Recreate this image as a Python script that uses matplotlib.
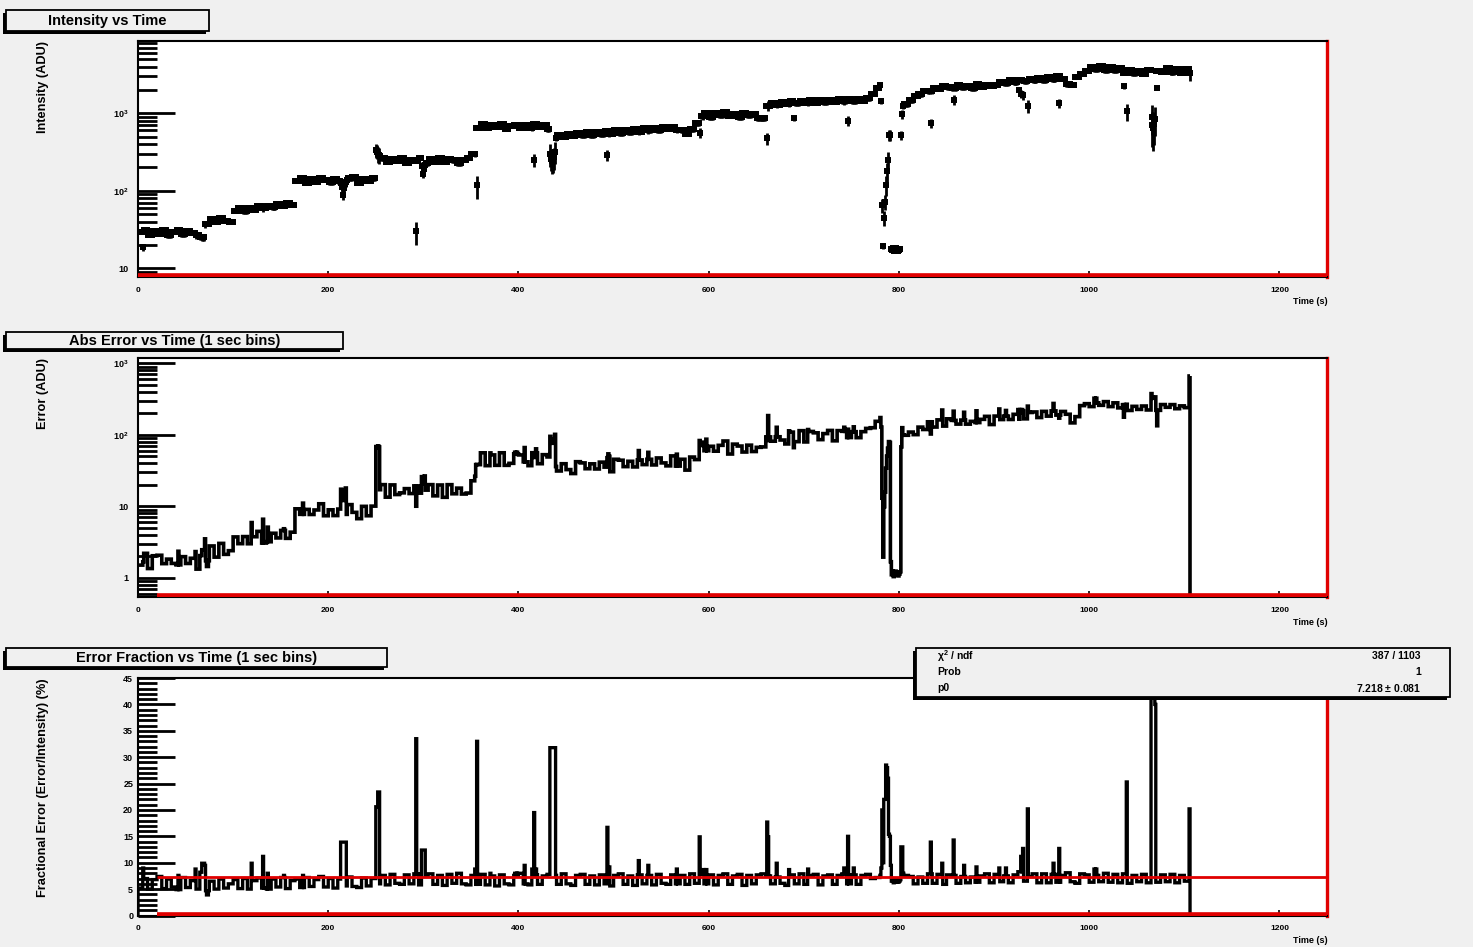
import numpy as np
import matplotlib
matplotlib.use("Agg")
import matplotlib.pyplot as plt
from matplotlib.patches import Rectangle
from matplotlib.ticker import MultipleLocator, LogLocator, FuncFormatter, NullFormatter

# ---------------------------------------------------------------- data
N_BINS = 1106          # 1-second bins
BLOCK = 5              # baseline values are listed per 5-second block
X_MAX = 1250

# baseline intensity (ADU) per 5 s block
intensity_5s = [
    29, 31.5, 27, 30, 28, 31, 26.5, 29.5, 31, 27.5, 30, 28.5, 26.5, 25,
    37, 43, 39, 44, 41, 40,
    55, 59, 54, 60, 57, 63, 59, 64, 61, 67, 64, 70, 66,
    134, 146, 126, 140, 131, 147, 137, 128, 143, 133, 138, 145, 150, 127, 141, 132, 144,
    285, 265, 232, 256, 240, 262, 230, 252, 245, 264, 228, 255, 238, 262, 235, 258, 246, 225, 248, 265, 300,
    650, 720, 640, 700, 670, 730, 625, 690, 715, 655, 700, 640, 725, 670, 705, 630,
    475, 530, 500, 545, 505, 555, 520, 570, 525, 575, 540, 590, 545, 600, 560, 610, 570, 625, 580, 640,
    600, 655, 610, 665, 625, 660, 610,
    600, 545, 620, 740,
    910, 1000, 900, 1020, 940, 1040, 915, 990, 895, 1010, 945, 975, 870, 860,
    1250, 1360, 1290, 1390, 1310, 1420, 1340, 1450, 1350, 1470, 1370, 1480, 1390, 1500, 1400, 1510,
    1420, 1530, 1440, 1550, 1460, 1580,
    1800, 2150,
    1430, 120, 250, 17.7, 17.7, 1300,
    1480, 1680, 1760, 1950, 1930, 2110, 2080, 2250, 2180,
    2100, 2320, 2180, 2280, 2120, 2360, 2200, 2300, 2250,
    2350, 2560, 2440, 2650, 2520, 2720, 2580, 2780, 2650, 2820,
    2700, 2950, 2780, 3000, 2800, 2400, 2300, 2950, 3250,
    3550, 3950, 3700, 4050, 3650, 3950, 3600, 3850, 3350, 3600, 3300, 3550, 3250, 3600, 3200, 3500,
    3450, 3800, 3400, 3750, 3350, 3700, 3500,
]

# baseline fractional error (%) per 5 s block
fraction_5s = [
    5.2, 7.0, 5.0, 6.8, 7.4, 5.1, 6.9, 5.4, 4.9, 7.2, 5.3, 6.6, 5.0, 8.2,
    4.7, 6.5, 5.0, 6.9, 5.2, 6.0,
    6.8, 5.1, 7.0, 5.0, 6.6, 7.1, 5.2, 5.0, 6.9, 5.4, 7.2, 5.1, 6.6,
    6.9, 5.3, 7.2, 5.5, 6.8, 7.4, 5.4, 7.0, 5.2, 6.9, 5.6, 7.3, 5.5, 5.3, 7.1, 5.6, 7.0,
    6.0, 7.6, 5.8, 7.8, 6.1, 5.9, 7.7, 6.0, 7.9, 5.8, 7.4, 7.9, 5.9, 7.6, 5.7, 7.8, 6.1, 8.0, 6.0, 5.8, 7.6,
    5.9, 7.8, 5.8, 7.5, 5.6, 7.7, 6.0, 5.8, 7.6, 8.0, 6.0, 5.8, 7.7, 5.9, 7.5, 7.8,
    7.6, 5.9, 7.9, 6.0, 5.7, 7.6, 7.8, 5.9, 7.5, 5.8, 7.7, 6.0, 5.6, 7.6, 7.9, 5.9, 7.5, 5.7, 7.7, 6.0,
    7.6, 5.8, 7.8, 6.1, 5.9, 7.7, 6.0,
    7.6, 5.9, 7.9, 6.1,
    7.8, 6.0, 7.7, 5.8, 7.6, 7.9, 5.9, 7.5, 7.8, 5.7, 7.6, 6.0, 7.7, 7.9,
    7.5, 6.0, 7.3, 6.1, 5.7, 7.7, 6.0, 7.9, 5.9, 7.6, 7.8, 5.8, 7.5, 7.7, 5.9, 7.6,
    7.9, 6.0, 7.7, 5.9, 7.6, 7.8,
    7.0, 7.2,
    9.0, 22.0, 26.0, 6.5, 6.3, 7.6,
    7.4, 6.0, 7.3, 6.1, 7.9, 6.1, 7.8, 5.9, 7.7,
    7.6, 6.1, 7.4, 6.2, 7.3, 6.3, 7.5, 7.9, 6.2,
    7.8, 6.4, 7.5, 6.2, 7.7, 8.3, 6.5, 7.4, 7.9, 6.2,
    7.9, 6.2, 7.8, 6.3, 7.6, 8.1, 6.4, 6.1, 7.9,
    7.7, 6.3, 7.6, 6.4, 8.0, 6.3, 7.8, 6.2, 7.9, 6.1, 7.6, 6.4, 7.8, 6.2, 7.5, 6.3,
    7.7, 6.4, 7.8, 6.2, 7.6, 6.5, 7.0,
]

# single-second intensity readings that depart from the block baseline
intensity_dev_t = [5, 213, 214, 215, 216, 217, 218, 250, 251, 252, 253, 292, 298, 299, 300, 301,
                   356, 416, 433, 434, 435, 436, 437, 438, 493, 590, 661, 689, 746,
                   780, 781, 782, 783, 784, 785, 786, 787, 788, 789, 790, 791, 792, 793, 794,
                   795, 796, 797, 798, 799, 800, 801, 802, 803, 804,
                   833, 857, 926, 928, 930, 935, 968, 1036, 1039,
                   1065, 1066, 1067, 1068, 1069, 1071, 1105]
intensity_dev_v = [18.6, 125, 112, 87, 110, 122, 130, 333, 320, 300, 290, 30, 210, 166, 190, 215,
                   117, 248, 300, 260, 240, 250, 270, 320, 287, 560, 473, 861, 800,
                   2300, 1430, 65, 19.5, 45, 72, 120, 180, 250, 523, 523, 17.7, 17.0, 18.2, 16.8,
                   17.5, 18.0, 17.2, 17.8, 16.9, 17.4, 17.9, 523, 970, 1250,
                   740, 1500, 2000, 1800, 1700, 1250, 1350, 2240, 1060,
                   900, 700, 650, 720, 850, 2130, 3300]

# single-second fractional-error readings that depart from the block baseline
fraction_dev_t = [5, 42, 60, 67, 68, 69, 70, 72, 73, 119, 131, 136, 153, 173,
                  213, 214, 215, 216, 217, 218, 250, 251, 252, 253, 292, 298, 299, 300, 301,
                  354, 356, 370, 396, 398, 400, 406, 414, 416, 418,
                  433, 434, 435, 436, 437, 438, 493, 494, 495, 526, 536, 566, 590, 594, 597,
                  661, 662, 671, 684, 704, 742, 746, 752,
                  780, 781, 782, 783, 784, 785, 786, 787, 788, 789, 790, 791, 792, 793, 794,
                  795, 796, 797, 798, 799, 800, 801, 802, 803, 804,
                  833, 845, 857, 868, 881, 905, 912, 928, 930, 935, 962, 968, 1005, 1007, 1039,
                  1065, 1066, 1067, 1068, 1069, 1105]
fraction_dev_v = [9.0, 7.6, 8.8, 9.9, 9.9, 9.9, 9.5, 3.9, 3.9, 9.9, 11.2, 8.0, 7.6, 7.6,
                  13.9, 13.9, 13.9, 13.9, 13.9, 13.9, 20.6, 20.6, 23.4, 23.4, 33.5, 12.4, 12.4, 12.4, 12.4,
                  8.8, 33.0, 8.0, 8.0, 8.0, 8.0, 9.5, 8.8, 19.5, 8.8,
                  31.8, 31.8, 31.8, 31.8, 31.8, 31.8, 16.7, 9.2, 9.2, 10.4, 9.5, 8.8, 14.9, 8.7, 8.7,
                  17.7, 14.9, 9.9, 8.7, 8.8, 9.0, 15.0, 9.0,
                  7.6, 9.0, 20.0, 10.0, 22.0, 22.0, 28.5, 28.0, 26.0, 15.4, 15.0, 9.5, 6.5, 6.8, 6.2,
                  6.6, 6.9, 6.4, 6.7, 6.3, 6.5, 6.8, 13.0, 13.0, 8.0,
                  13.9, 9.9, 14.3, 9.5, 9.2, 9.0, 9.0, 11.2, 12.7, 20.2, 9.9, 12.7, 8.8, 8.8, 25.3,
                  42.0, 48.0, 50.0, 46.0, 40.0, 20.2]

# constant (pol0) fit to the fractional error
fit_start = 20
fit_p0 = 7.218
fit_p0_err = 0.081
fit_chi2, fit_ndf, fit_prob = 387, 1103, 1

# ---------------------------------------------------------------- series
edges = np.arange(N_BINS + 1)
centers = edges[:-1] + 0.5

intensity = np.repeat(np.asarray(intensity_5s, float), BLOCK)[:N_BINS]
intensity[intensity_dev_t] = intensity_dev_v
fraction = np.repeat(np.asarray(fraction_5s, float), BLOCK)[:N_BINS]
fraction[fraction_dev_t] = fraction_dev_v
abs_error = intensity * fraction / 100.0

# ---------------------------------------------------------------- figure
W, H, DPI = 1473, 947, 100
BG = "#f0f0f0"
RED = "#e00000"
plt.rcParams["font.family"] = ["Liberation Sans", "DejaVu Sans"]
plt.rcParams["mathtext.default"] = "regular"
plt.rcParams["font.weight"] = "bold"

fig = plt.figure(figsize=(W / DPI, H / DPI), dpi=DPI, facecolor=BG)


def px_box(left, top, right, bottom):
    return [left / W, 1 - bottom / H, (right - left) / W, (bottom - top) / H]


def px_text(x, y, s, **kw):
    return fig.text(x / W, 1 - y / H, s, **kw)


def pave(left, top, right, bottom):
    # box with a drop shadow on the lower-left side
    fig.add_artist(Rectangle((left / W, 1 - bottom / H), (right - 3 - left) / W, (bottom - 3 - top) / H,
                             transform=fig.transFigure, facecolor="black", edgecolor="black",
                             lw=0, zorder=5))
    fig.add_artist(Rectangle(((left + 3) / W, 1 - (bottom - 3) / H), (right - left - 3) / W,
                             (bottom - top - 3) / H, transform=fig.transFigure,
                             facecolor=BG, edgecolor="black", lw=1.3, zorder=6))


def log_label(v, pos):
    e = int(round(np.log10(v)))
    if e == 0:
        return "1"
    if e == 1:
        return "10"
    return r"$10^{%d}$" % e


def style(ax, bottom_px, ylab_pad):
    ax.set_facecolor("white")
    for s in ax.spines.values():
        s.set_linewidth(1.5)
        s.set_color("black")
    ax.spines["right"].set_color(RED)
    ax.spines["right"].set_linewidth(2.4)
    ax.set_xlim(0, X_MAX)
    ax.xaxis.set_major_locator(MultipleLocator(200))
    ax.xaxis.set_minor_locator(MultipleLocator(50))
    ax.tick_params(axis="x", which="major", direction="in", length=4.5, width=1.2,
                   labelsize=6, pad=7)
    ax.tick_params(axis="x", which="minor", direction="in", length=2.5, width=1.2)
    ax.tick_params(axis="y", which="major", direction="in", length=26.5, width=2.0,
                   labelsize=6.5, pad=ylab_pad)
    ax.tick_params(axis="y", which="minor", direction="in", length=13.5, width=2.0)
    ax.tick_params(top=False, right=False)
    px_text(1328, bottom_px + 25, "Time (s)", ha="right", va="center", fontsize=6.5)


# ---------------- panel 1: intensity vs time
ax1 = fig.add_axes(px_box(138, 40.7, 1327, 277))
ax1.set_yscale("log")
ax1.set_ylim(7.7, 8650)
style(ax1, 277, 7)
ax1.yaxis.set_major_locator(LogLocator(base=10, numticks=20))
ax1.yaxis.set_minor_locator(LogLocator(base=10, subs=np.arange(2, 10), numticks=100))
ax1.yaxis.set_major_formatter(FuncFormatter(log_label))
ax1.yaxis.set_minor_formatter(NullFormatter())
ax1.errorbar(centers, intensity, yerr=abs_error, xerr=0.5, fmt="_", color="black",
             ms=5, mew=4.3, elinewidth=2.0, capsize=0, zorder=3)
ax1.hlines(ax1.get_ylim()[0], 0, X_MAX, colors=RED, lw=5.5, zorder=4)

# ---------------- panel 2: absolute error vs time
ax2 = fig.add_axes(px_box(138, 358, 1327, 597))
ax2.set_yscale("log")
ax2.set_ylim(0.54, 1190)
style(ax2, 597, 7)
ax2.yaxis.set_major_locator(LogLocator(base=10, numticks=20))
ax2.yaxis.set_minor_locator(LogLocator(base=10, subs=np.arange(2, 10), numticks=100))
ax2.yaxis.set_major_formatter(FuncFormatter(log_label))
ax2.yaxis.set_minor_formatter(NullFormatter())
ax2.stairs(abs_error, edges, baseline=None, color="black", lw=2.6, zorder=3)
ax2.vlines(edges[-1], ax2.get_ylim()[0], abs_error[-1], colors="black", lw=2.6, zorder=3)
ax2.hlines(ax2.get_ylim()[0], fit_start, X_MAX, colors=RED, lw=5.5, zorder=4)

# ---------------- panel 3: fractional error vs time
ax3 = fig.add_axes(px_box(138, 678, 1327, 915.5))
ax3.set_ylim(0, 45)
style(ax3, 915.5, 3.5)
ax3.yaxis.set_major_locator(MultipleLocator(5))
ax3.yaxis.set_minor_locator(MultipleLocator(1))
ax3.stairs(fraction, edges, baseline=0, color="black", lw=2.4, zorder=3)
ax3.hlines(0, fit_start, X_MAX, colors=RED, lw=5.5, zorder=4)
ax3.hlines(fit_p0, fit_start, X_MAX, colors=RED, lw=2.0, zorder=4)

# ---------------- titles, axis titles
pave(3, 10, 209, 34)
px_text(107, 21, "Intensity vs Time", ha="center", va="center", fontsize=10.5, zorder=7)
pave(3, 332, 343, 352)
px_text(175, 341, "Abs Error vs Time (1 sec bins)", ha="center", va="center", fontsize=10.5, zorder=7)
pave(3, 648, 387, 670)
px_text(197, 658, "Error Fraction vs Time (1 sec bins)", ha="center", va="center", fontsize=10.5, zorder=7)

px_text(43, 40.7, "Intensity (ADU)", rotation=90, ha="center", va="top", fontsize=9.2)
px_text(43, 358, "Error (ADU)", rotation=90, ha="center", va="top", fontsize=9.2)
px_text(43, 678, "Fractional Error (Error/Intensity) (%)", rotation=90, ha="center", va="top", fontsize=9.2)

# ---------------- fit statistics box
pave(913, 648, 1450, 700)
rows = [(r"$\chi^{2}$ / ndf", f"{fit_chi2} / {fit_ndf}"),
        ("Prob", f"{fit_prob}"),
        ("p0", f"{fit_p0:.3f} $\\pm$ {fit_p0_err:.3f}")]
for i, (lab, val) in enumerate(rows):
    y = 656 + i * 16
    px_text(937, y, lab, ha="left", va="center", fontsize=7.5, zorder=7)
    px_text(1421, y, val, ha="right", va="center", fontsize=7.5, zorder=7)

fig.savefig("out.png", dpi=DPI, facecolor=BG)
